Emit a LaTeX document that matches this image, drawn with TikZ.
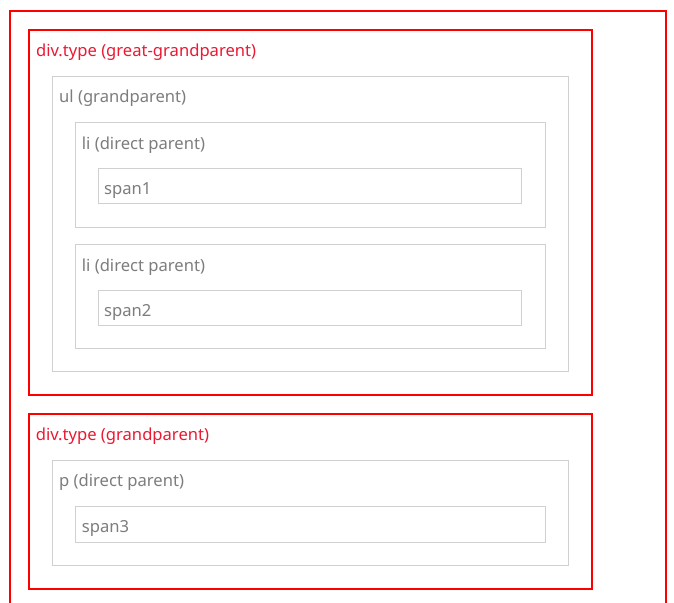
\documentclass[tikz,border=0pt]{standalone}
\usepackage{fontspec}
\setmainfont{Noto Sans}
\definecolor{boxred}{RGB}{255,0,0}
\definecolor{txtred}{RGB}{235,25,50}
\definecolor{txtgray}{RGB}{125,125,125}
\definecolor{boxgray}{RGB}{208,208,208}
\begin{document}
\begin{tikzpicture}[x=1pt,y=-1pt,
  redbox/.style={draw=boxred,line width=2pt,inner sep=0pt,outer sep=0pt},
  graybox/.style={draw=boxgray,line width=1pt,inner sep=0pt,outer sep=0pt},
  redlabel/.style={text=txtred,anchor=base west,inner sep=0pt,font=\fontsize{16.6}{19}\selectfont},
  graylabel/.style={text=txtgray,anchor=base west,inner sep=0pt,font=\fontsize{16.6}{19}\selectfont}]
\useasboundingbox[fill=white] (0,0) rectangle (674,602);
\clip (0,0) rectangle (674,602);
% outer container (bottom edge beyond the picture)
\coordinate (ol) at (10,620);
\coordinate (otl) at (10,11);
\coordinate (otr) at (666,11);
\coordinate (or) at (666,620);
\draw[boxred,line width=2pt] (ol) -- (otl) -- (otr) -- (or);
% great-grandparent
\draw[redbox] (29,30) rectangle (592,395);
\node[redlabel] (ggp) at (36,56.5) {div.type (great-grandparent)};
\draw[graybox] (52.5,76.5) rectangle (568.5,371.5);
\node[graylabel] (ul) at (59,102.3) {ul (grandparent)};
\draw[graybox] (75.5,122.5) rectangle (545.5,227.5);
\node[graylabel] (li1) at (81.7,149) {li (direct parent)};
\draw[graybox] (98.5,168.5) rectangle (521.5,203.5);
\node[graylabel] (s1) at (104,194) {span1};
\draw[graybox] (75.5,244.5) rectangle (545.5,348.5);
\node[graylabel] (li2) at (81.7,271) {li (direct parent)};
\draw[graybox] (98.5,290.5) rectangle (521.5,325.5);
\node[graylabel] (s2) at (104,316) {span2};
% grandparent
\draw[redbox] (28.5,414) rectangle (592,589);
\node[redlabel] (gp) at (35.7,440.7) {div.type (grandparent)};
\draw[graybox] (52.5,460.5) rectangle (568.5,565.5);
\node[graylabel] (p) at (59,486) {p (direct parent)};
\draw[graybox] (75.5,506.5) rectangle (545.5,542.5);
\node[graylabel] (s3) at (81.7,532) {span3};
\end{tikzpicture}
\end{document}
